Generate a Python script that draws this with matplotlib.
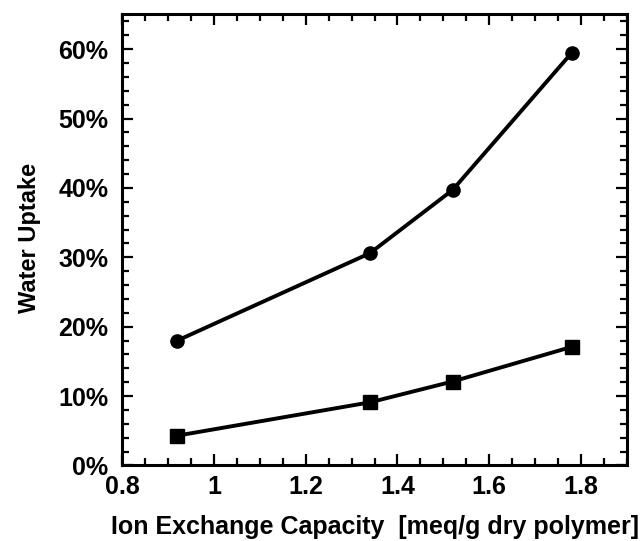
import matplotlib
matplotlib.use("Agg")
from matplotlib import pyplot as plt
from matplotlib.ticker import MultipleLocator, FuncFormatter

plt.rcParams['font.family'] = ['Liberation Sans', 'DejaVu Sans']
plt.rcParams['font.weight'] = 'bold'

# ion exchange capacity [meq/g dry polymer]
iec = [0.92, 1.34, 1.52, 1.78]
# water uptake, percent
uptake_circle = [18.0, 30.6, 39.7, 59.5]
uptake_square = [4.3, 9.1, 12.1, 17.1]

fig = plt.figure(figsize=(6.43, 5.41), dpi=100)
ax = fig.add_axes([0.19, 0.1396, 0.785, 0.8336])

ax.plot(iec, uptake_circle, color='black', lw=2.8, marker='o', ms=9.5)
ax.plot(iec, uptake_square, color='black', lw=2.8, marker='s', ms=9.5)

ax.set_xlim(0.8, 1.9)
ax.set_ylim(0, 65)
ax.xaxis.set_major_locator(MultipleLocator(0.2))
ax.xaxis.set_minor_locator(MultipleLocator(0.05))
ax.yaxis.set_major_locator(MultipleLocator(10))
ax.yaxis.set_minor_locator(MultipleLocator(2))
ax.xaxis.set_major_formatter(FuncFormatter(lambda v, p: '%g' % round(v, 2)))
ax.yaxis.set_major_formatter(FuncFormatter(lambda v, p: '%d%%' % round(v)))

for s in ax.spines.values():
    s.set_linewidth(2.2)
ax.tick_params(which='both', direction='in', top=True, right=True, width=1.6)
ax.tick_params(which='major', length=8, labelsize=18)
ax.tick_params(axis='x', which='major', pad=7)
ax.tick_params(axis='y', which='major', pad=10)
ax.tick_params(which='minor', length=5)

ax.set_xlabel('Ion Exchange Capacity  [meq/g dry polymer]', fontsize=18, fontweight='bold')
ax.set_ylabel('Water Uptake', fontsize=17, fontweight='bold')
ax.xaxis.set_label_coords(0.5, -0.11)
ax.yaxis.set_label_coords(-0.16, 0.505)

fig.savefig('out.png', dpi=100)
